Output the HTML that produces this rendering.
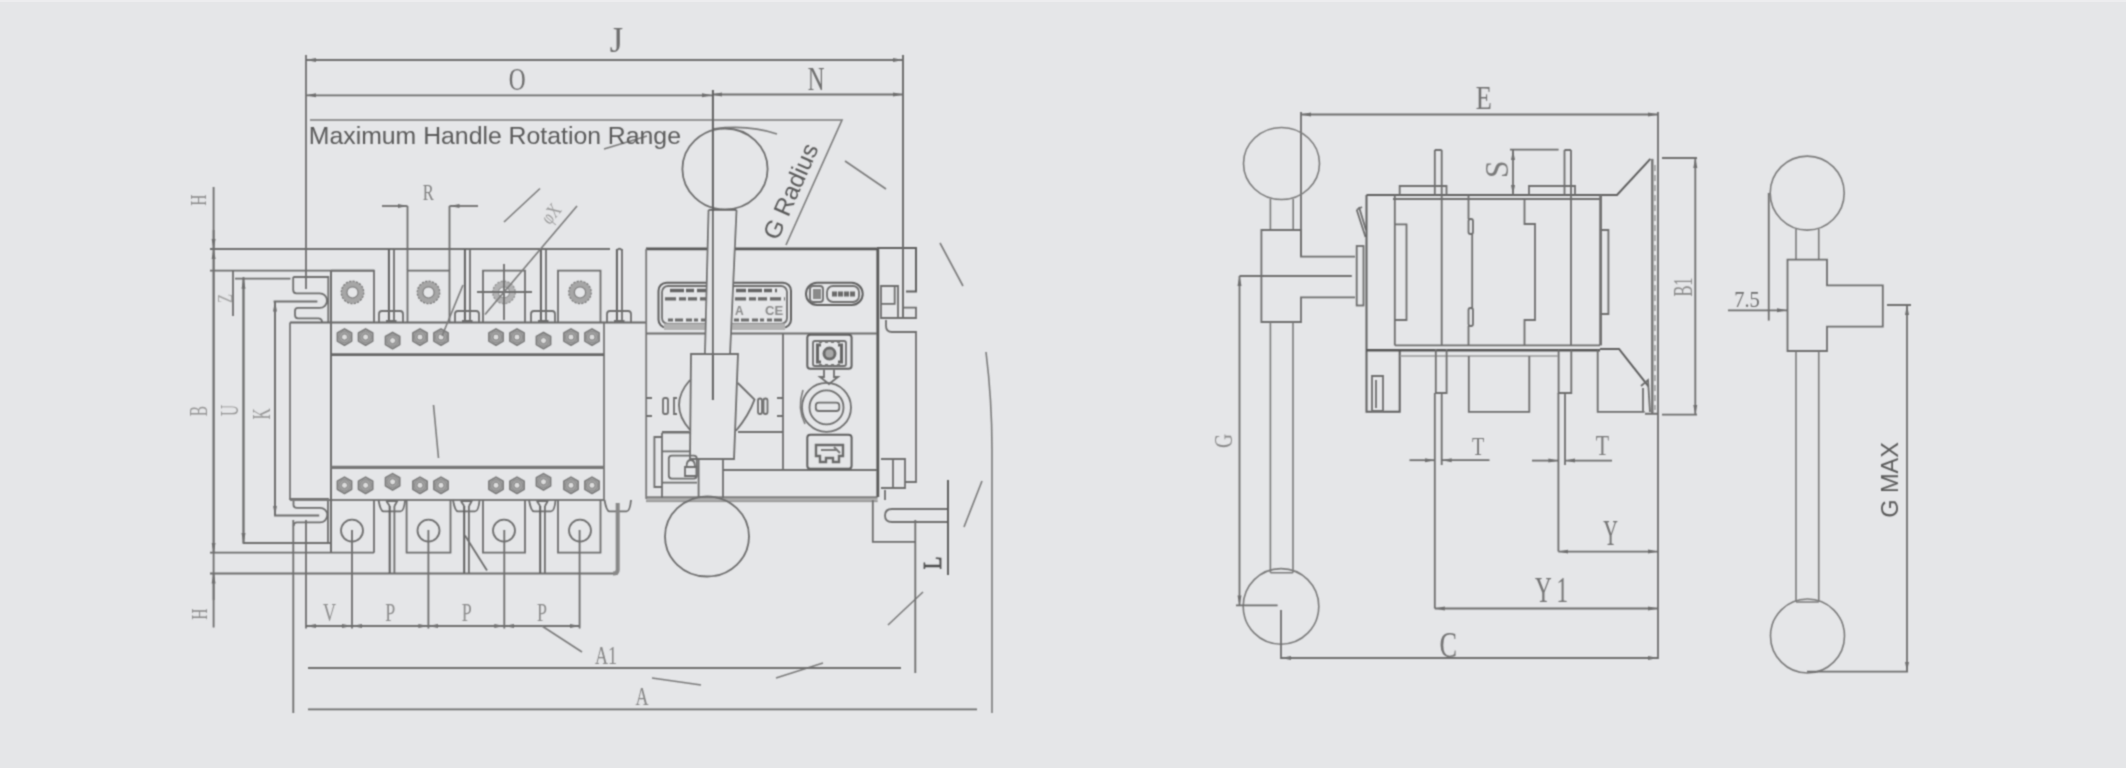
<!DOCTYPE html>
<html><head><meta charset="utf-8">
<style>
html,body{margin:0;padding:0;background:#e5e6e8;}
body{width:2126px;height:768px;overflow:hidden;position:relative;}
svg{position:absolute;left:0;top:0;will-change:transform;}
.l{stroke:#6e6e6e;stroke-width:1.8;fill:none;}
.d{stroke:#606060;stroke-width:2;fill:none;}
.k{stroke:#555;stroke-width:2.4;fill:none;}
.t{stroke:#7c7c7c;stroke-width:1.6;fill:none;}
.g{stroke:#9a9a9a;stroke-width:1.3;fill:none;}
.lab{font-family:"Liberation Serif",serif;fill:#7a7a7a;font-size:26px;}
.sans{font-family:"Liberation Sans",sans-serif;fill:#5a5a5a;}
</style></head>
<body>
<div style="position:absolute;left:0;top:0;width:2126px;height:2px;background:#ededef"></div>
<svg width="2126" height="768" viewBox="0 0 2126 768">
<defs>
<filter id="bl" filterUnits="userSpaceOnUse" x="0" y="0" width="2126" height="768"><feConvolveMatrix order="3" kernelMatrix="0.0441 0.1218 0.0441 0.1218 0.3364 0.1218 0.0441 0.1218 0.0441" divisor="1" edgeMode="none"/></filter>
<marker id="ar" viewBox="0 0 10 5" refX="10" refY="2.5" markerWidth="10" markerHeight="5" markerUnits="userSpaceOnUse" orient="auto-start-reverse"><path d="M0,0.5 L10,2.5 L0,4.5 z" fill="#6e6e6e"/></marker>
</defs>
<g filter="url(#bl)">
<!-- LEFT DRAWING -->
<g id="left">
<!-- top dimension lines -->
<path class="l" d="M306 55 V289 M903 55 V317"/>
<path class="l" d="M306 60 H903" marker-start="url(#ar)" marker-end="url(#ar)"/>
<path class="l" d="M306 95.3 H712" marker-start="url(#ar)" marker-end="url(#ar)"/>
<path class="l" d="M712 94.5 H903" marker-start="url(#ar)" marker-end="url(#ar)"/>
<path class="t" d="M310 120 H842 L786 245"/>
<!-- rotation range arc fragments -->
<path class="t" d="M712 129 Q748 124 777 134"/>
<path class="t" d="M845 161 L886 189 M940 243 L963 286 M986 352 Q992 400 992 450 V713 M982 481 L964 527 M923 592 L888 625 M823 663 L776 678 M701 685 L652 678 M604 149 L647 136 M433.5 405 L438.5 458"/>
<!-- handle top ball -->
<ellipse class="l" cx="725" cy="169" rx="42.6" ry="40.5"/>
<!-- left dims -->
<path class="l" d="M213.6 187 V627.5"/>
<path class="l" d="M210 249 H610 M210 270.6 H374 M210 552.7 H374 M210 573.5 H618"/>
<path class="l" d="M233 270 V316 M243.5 277 V543 H331 M235 278.7 H290.5"/>
<path class="l" d="M275 301.5 V515.5 H319.2 M273.6 301.5 H317.4"/>
<path class="l" d="M213.6 230 V249" marker-end="url(#ar)"/>
<path class="l" d="M213.6 600 V573.5" marker-end="url(#ar)"/>
<path class="l" d="M213.6 400 V552.7" marker-end="url(#ar)"/>
<path class="l" d="M213.6 400 V249" marker-end="url(#ar)"/>
<path class="l" d="M243.5 400 V543" marker-end="url(#ar)"/>
<path class="l" d="M243.5 400 V278.7" marker-end="url(#ar)"/>
<path class="l" d="M275 400 V515.5" marker-end="url(#ar)"/>
<path class="l" d="M275 400 V301.5" marker-end="url(#ar)"/>
<!-- mounting slots -->
<path class="l" d="M293.2 277 H328.3 V322 M293.2 277 V290 Q293.2 293.3 296.5 293.3 H319.7 A7.3 7.3 0 0 1 319.7 307.9 H298 Q295 307.9 295 311 V315 Q295 318.3 298 318.3 H318 Q322 318.3 322 322"/>
<path class="l" d="M289.6 499 H328 V543 M293.5 499 V505 Q293.5 507.8 297 507.8 H320 A7.3 7.3 0 0 1 320 522.4 H297 Q293.7 522.4 293.7 526"/>
<!-- body -->
<path d="M290 322.5 H646" stroke="#666" stroke-width="2" fill="none"/>
<path d="M290 322.5 V500 M604 322.5 V500" stroke="#727272" stroke-width="1.7" fill="none"/>
<path d="M290 500 H604" stroke="#7a7a7a" stroke-width="1.8" fill="none"/>
<path d="M331 270.6 V552.7" stroke="#6c6c6c" stroke-width="2" fill="none"/>
<path d="M331 354.7 H604" stroke="#666" stroke-width="2.8" fill="none"/>
<path d="M331 467.3 H604" stroke="#777" stroke-width="3.2" fill="none"/>
<!-- top terminals -->
<path class="l" d="M331 270.6 H374 V322 M407.5 322 V270.6 H449.5 V322 M483 322 V270.6 H525 V322 M558 322 V270.6 H600.5 V322"/>
<!-- bolts between terminals (top) -->
<g id="boltT"><path class="d" d="M388.9 249 V321"/><path class="l" d="M394 249 V321 M386 321 H396.5 M379 322 V314 Q379 311 382 311 H400 Q403 311 403 314 V322"/></g>
<use href="#boltT" x="76"/><use href="#boltT" x="152"/><use href="#boltT" x="228"/>
<path class="l" d="M616.9 250.5 Q619.5 247 622 250.5"/>
<!-- terminal nuts top -->
<g fill="none"><g id="tn"><circle cx="352.5" cy="292.4" r="8.4" stroke="#a6a6a6" stroke-width="5.6"/><circle cx="352.5" cy="292.4" r="11.2" stroke="#7a7a7a" stroke-width="1.3" stroke-dasharray="2.2 1.3"/><circle cx="352.5" cy="292.4" r="5.6" stroke="#7e7e7e" stroke-width="1.2"/></g><use href="#tn" x="76"/><use href="#tn" x="151.5" opacity="0.8"/><use href="#tn" x="227.5"/></g>
<path class="l" d="M477 292 H532 M504 264 V320"/>
<!-- nut rows -->
<defs><g id="nut"><polygon points="0,-8.3 7.2,-4.15 7.2,4.15 0,8.3 -7.2,4.15 -7.2,-4.15" fill="#a3a3a3" stroke="#767676" stroke-width="1.4" stroke-linejoin="round"/><circle r="5.6" fill="none" stroke="#8c8c8c" stroke-width="1"/><circle r="3" fill="#dcdcdc" stroke="#858585" stroke-width="1"/></g></defs>
<g id="nuts">
<use href="#nut" x="344.5" y="337.1"/>
<use href="#nut" x="365.6" y="337.1"/>
<use href="#nut" x="392.6" y="340.6"/>
<use href="#nut" x="420" y="337.1"/>
<use href="#nut" x="441" y="337.1"/>
<use href="#nut" x="496" y="337.1"/>
<use href="#nut" x="517" y="337.1"/>
<use href="#nut" x="543.5" y="340.6"/>
<use href="#nut" x="571" y="337.1"/>
<use href="#nut" x="592" y="337.1"/>
<use href="#nut" x="344.5" y="485.3"/>
<use href="#nut" x="365.6" y="485.3"/>
<use href="#nut" x="392.6" y="481.8"/>
<use href="#nut" x="420" y="485.3"/>
<use href="#nut" x="441" y="485.3"/>
<use href="#nut" x="496" y="485.3"/>
<use href="#nut" x="517" y="485.3"/>
<use href="#nut" x="543.5" y="481.8"/>
<use href="#nut" x="571" y="485.3"/>
<use href="#nut" x="592" y="485.3"/>
</g>
<!-- bottom terminals -->
<path class="l" d="M374 500 V552.7 M406.6 500 V552.7 H450.5 V500 M483 500 V552.7 H525 V500 M558 500 V552.7 H600.5 V500"/>
<g class="l"><circle cx="352" cy="530.6" r="11"/><circle cx="428.5" cy="530.6" r="11"/><circle cx="504" cy="530.6" r="11"/><circle cx="580" cy="530.6" r="11"/></g>
<g id="boltB"><path class="l" d="M453 500 Q455 511.4 458 511.4 H475 Q478.5 511.4 479.6 500 M460.8 501 H471.8 L469 506 M460.8 501 L464.2 506 M468.9 506 V573"/><path class="d" d="M464.2 506 V573"/></g>
<use href="#boltB" x="-74.5"/><use href="#boltB" x="76"/>
<path class="l" d="M604.5 500 Q606.5 511.4 609.5 511.4 H626.5 Q630 511.4 631 500"/>
<path d="M617.7 503 V570 Q617.7 573.5 613 573.5" stroke="#888" stroke-width="4" fill="none"/>
<path class="l" d="M465 535.5 L487 570.6"/>
<!-- phi X -->
<path class="t" d="M577 206 L485 314.5 M504 222 L540 188.5 M463 285 L442 336"/>
<!-- R dim -->
<path class="l" d="M407.5 206 V270 M449.5 206 V270"/>
<path class="l" d="M382 206 H407.5" marker-end="url(#ar)"/>
<path class="l" d="M478 206 H449.5" marker-end="url(#ar)"/>
<!-- bottom dims -->
<path class="l" d="M293.3 520 V713 M306 520 V628.6 M352 530 V628.6 M428.4 530 V628.6 M504.3 530 V628.6 M579.6 530 V628.6"/>
<path class="l" d="M306 626 H352" marker-start="url(#ar)" marker-end="url(#ar)"/>
<path class="l" d="M352 626 H428.4" marker-start="url(#ar)" marker-end="url(#ar)"/>
<path class="l" d="M428.4 626 H504.3" marker-start="url(#ar)" marker-end="url(#ar)"/>
<path class="l" d="M504.3 626 H579.6" marker-start="url(#ar)" marker-end="url(#ar)"/>
<path class="t" d="M542 626 L582 652"/>
<path class="l" d="M308 668 H901 M308 709.4 H977 M915.3 520 V673"/>
<!-- handle panel -->
<rect x="646" y="496.2" width="231.5" height="6" fill="#b0b0b0"/>
<path d="M646 497.4 H877.5" stroke="#7c7c7c" stroke-width="1.8" fill="none"/>
<path d="M646 501.3 H877.5" stroke="#999" stroke-width="1.6" fill="none"/>
<path d="M646 248.9 H877.8 V497" stroke="#585858" stroke-width="2.8" fill="none"/>
<path d="M646.2 248.9 V499" stroke="#7a7a7a" stroke-width="1.8" fill="none"/>
<path class="l" d="M646 333.5 H877 M783 333 V470 M723 470 H877 M662 432 H689 M738 432 H783"/>
<rect class="d" x="658.5" y="282.7" width="132.5" height="45" rx="8"/>
<rect class="l" x="662" y="286" width="125" height="38" rx="6"/>
<rect x="664" y="323.5" width="121" height="6.5" fill="#b2b2b2"/>
<path d="M670 290.5 H777" stroke="#656565" stroke-width="3.6" stroke-dasharray="14 2 8 3 10 2"/>
<path d="M665 298.8 H785" stroke="#6a6a6a" stroke-width="3.2" stroke-dasharray="11 3 7 2 9 3"/>
<path d="M668 320 H782" stroke="#6c6c6c" stroke-width="3" stroke-dasharray="5 2 8 3 6 2 4 3"/>
<text x="735" y="315" font-family="Liberation Sans" font-size="12" fill="#8a8a8a" font-weight="bold">A</text>
<text x="765" y="315" font-family="Liberation Sans" font-size="13" fill="#8a8a8a" font-weight="bold">CE</text>
<rect class="d" x="806" y="282.7" width="56.7" height="22.3" rx="11"/>
<rect class="l" x="810" y="286" width="13" height="16" rx="3"/>
<rect class="l" x="827" y="286" width="32" height="16" rx="6"/>
<path d="M832 294 H856" stroke="#6a6a6a" stroke-width="5" stroke-dasharray="5 1"/><rect x="813" y="289" width="8" height="10" fill="#8a8a8a"/>
<!-- icons -->
<rect class="d" x="807.3" y="334.7" width="44.3" height="34" rx="3"/>
<rect class="l" x="813" y="341" width="33" height="25" rx="2"/>
<path d="M821 345 H817.5 V362 H821 M838 345 H841.5 V362 H838" stroke="#666" stroke-width="3" fill="none"/>
<circle cx="829.5" cy="353.6" r="5.5" stroke="#6a6a6a" stroke-width="3" fill="#a8a8a8"/>
<path d="M819 342 H840 M819 365 H840" stroke="#777" stroke-width="2" stroke-dasharray="3 3"/>
<path class="l" d="M824 370 V377 H820 L829 384 L838 377 H834 V370"/>
<circle class="l" cx="826.5" cy="407.4" r="24.5"/>
<circle class="l" cx="826.5" cy="407.4" r="17"/>
<rect class="l" x="815.8" y="402.6" width="23.5" height="8.4" rx="3"/>
<path class="t" d="M803 390 Q797 408 805 424"/>
<rect class="d" x="807.3" y="434.7" width="44.3" height="34" rx="3"/>
<path d="M816 445 H843 V456 H839 V462 H833 V458 H826 V462 H820 V456 H816 Z" stroke="#6a6a6a" stroke-width="2.4" fill="none"/><path d="M821 450 H838 M834 447 L840 453" stroke="#7a7a7a" stroke-width="2" fill="none"/>
<!-- lever -->
<path d="M708.6 210 L736.5 210 L730 354 L705 354 Z" fill="#e5e6e8" stroke="none"/>
<path class="l" d="M708.6 210 L705 354 M736.5 210 L730 354 M708.6 210 H736.5"/>
<path class="d" d="M712.9 90 V400"/>
<path class="l" d="M691 354 H738 L734 459 H690 Z"/>
<path class="l" d="M698.6 459 V498 M723 459 V498"/>
<path class="l" d="M690 380 Q668 405 690 430 M737.8 383 L754.5 399.6 Q749 415 736 430.8"/>
<ellipse class="l" cx="707" cy="536.5" rx="42" ry="40"/>
<!-- left mechanism in panel -->
<path class="l" d="M654.4 437 H662 V487 H654.4 Z M662 432.7 V498 M662 432.7 H690 M662 451.4 H690 M662 482.7 H697"/>
<rect class="l" x="668.8" y="455.6" width="28" height="23" rx="3"/>
<path class="l" d="M685 476 V467 H696.5 V476 Z M686.5 467 Q686.5 460 690.7 460 Q695 460 695 467"/>
<rect class="l" x="663" y="398" width="5" height="16" rx="2"/>
<path class="l" d="M677 398 H674 V414 H677"/>
<rect class="l" x="758" y="398.5" width="4" height="15.5" rx="2"/>
<rect class="l" x="763.5" y="398.5" width="4" height="15.5" rx="2"/>
<path class="l" d="M646 398 H652 M646 416 H652 M777 398 H783 M777 416 H783"/>
<!-- right bracket -->
<path class="d" d="M877 248 H916 V291.5 H906"/>
<path class="l" d="M903 55 V318 M881 286 H898 V318 H881 Z M881 303.8 H894.7 V286 M898 318 H916 V307.7 H903"/>
<path class="l" d="M886 320 V326 Q886 332 892 332 H916 V482 H905"/>
<path class="l" d="M881 459 H905 V488 H881 M893 459 V488"/>
<path class="l" d="M885 490 V500 M872.8 500 V541.8 H916"/>
<path class="l" d="M949 509 H892 Q885 509 885 515.5 Q885 522 892 522 H949"/>
<path class="d" d="M948 480 V575"/>
<!-- labels -->
<g class="lab" text-anchor="middle">
<text transform="translate(616.5 52) scale(0.95 1)" font-size="36" fill="#6e6e6e">J</text>
<text transform="translate(517.3 90) scale(0.72 1)" font-size="32.5" fill="#6e6e6e">O</text>
<text transform="translate(816 89.5) scale(0.7 1)" font-size="33" fill="#6e6e6e">N</text>
<text transform="translate(428.4 200) scale(0.72 1)" font-size="23" fill="#808080">R</text>
<text transform="translate(206 200) rotate(-90) scale(0.65 1)" font-size="24" fill="#8a8a8a">H</text>
<text transform="translate(232 298.5) rotate(-90) scale(0.7 1)" font-size="21" fill="#a2a2a2">Z</text>
<text transform="translate(206.8 411) rotate(-90) scale(0.62 1)" font-size="25" fill="#959595">B</text>
<text transform="translate(238 410.5) rotate(-90) scale(0.62 1)" font-size="25" fill="#959595">U</text>
<text transform="translate(269.8 414) rotate(-90) scale(0.62 1)" font-size="25" fill="#959595">K</text>
<text transform="translate(207 614) rotate(-90) scale(0.65 1)" font-size="24" fill="#8a8a8a">H</text>
<text transform="translate(329.4 621) scale(0.72 1)" font-size="25" fill="#8c8c8c">V</text>
<text transform="translate(390.3 621) scale(0.72 1)" font-size="25" fill="#8c8c8c">P</text>
<text transform="translate(466.7 621) scale(0.72 1)" font-size="25" fill="#8c8c8c">P</text>
<text transform="translate(542 621) scale(0.72 1)" font-size="25" fill="#8c8c8c">P</text>
<text transform="translate(606 664) scale(0.72 1)" font-size="25" fill="#858585">A1</text>
<text transform="translate(642 705) scale(0.72 1)" font-size="25" fill="#858585">A</text>
<text transform="translate(941 563) rotate(-90) scale(0.8 1)" font-size="26" fill="#505050" stroke="#505050" stroke-width="0.8">L</text>
<text transform="translate(556 218) rotate(-50) scale(0.75 1)" font-size="20" fill="#999">&#966;X</text>
</g>
<text class="sans" x="308.8" y="143.7" font-size="24.8">Maximum Handle Rotation Range</text>
<text class="sans" transform="translate(790.6 191.3) rotate(-66.2)" text-anchor="middle" dominant-baseline="central" font-size="24.4">G Radius</text>
</g>
<!-- RIGHT DRAWING -->
<g id="right">
<path class="l" d="M1301 114.5 H1658" marker-start="url(#ar)" marker-end="url(#ar)"/>
<path class="l" d="M1301 112 V256.6 M1658 112 V659"/>
<!-- handle front -->
<ellipse class="t" cx="1281.5" cy="163.5" rx="38" ry="36"/>
<path class="t" d="M1270.4 199 V230 M1293.2 199 V230"/>
<path class="l" d="M1355 256.6 H1301 V230 H1261.4 V322 H1301 V297.3 H1355"/>
<path class="t" d="M1270.4 322 V572.8 M1293 322 V572.8 M1270.4 572.8 H1293"/>
<circle class="t" cx="1281" cy="606.4" r="37.8"/>
<path class="l" d="M1239.5 276 H1351.8"/>
<path class="l" d="M1239.5 276 V605.4" marker-start="url(#ar)" marker-end="url(#ar)"/>
<path class="l" d="M1236 605.4 H1277.6 M1281 610 V659"/>
<path class="l" d="M1281 658 H1658" marker-start="url(#ar)" marker-end="url(#ar)"/>
<path class="l" d="M1434.8 608.5 H1658" marker-start="url(#ar)" marker-end="url(#ar)"/>
<path class="l" d="M1558.4 551.6 H1658" marker-start="url(#ar)" marker-end="url(#ar)"/>
<!-- plate -->
<rect class="l" x="1356.7" y="246" width="6.8" height="59.5"/>
<path class="l" d="M1356.7 209.8 L1365.5 237 M1359 207 L1366 230 M1356.7 209.8 L1362 207"/>
<!-- body -->
<path class="d" d="M1366.5 195 H1617 L1650.4 158.9 M1366.5 195 V411.8 H1399.7 V349"/>
<path class="l" d="M1393 199 H1600"/>
<path d="M1652.3 158.9 V413.75" stroke="#747474" stroke-width="2.4" fill="none"/><path d="M1655 165 V410" stroke="#9a9a9a" stroke-width="1.5" stroke-dasharray="6 4" fill="none"/><path d="M1645 413.75 H1658" stroke="#6e6e6e" stroke-width="2" fill="none"/>
<path class="l" d="M1394.8 195 V345.4 M1395 224.4 H1406.5 V320 H1395"/>
<path class="l" d="M1434.8 150 V195 M1441.7 150 V345.4 M1434.8 150 H1441.7"/>
<path class="l" d="M1399.7 195 V186 H1446.5 V195"/>
<path class="l" d="M1468.5 195 V219 M1472.2 233 V308 M1468.5 326 V345.4"/>
<rect class="l" x="1468.5" y="219" width="4.5" height="15" rx="2"/>
<rect class="l" x="1468.5" y="308" width="4.5" height="18" rx="2"/>
<path class="l" d="M1524.5 198 V224 H1535 V320 H1524.5 V345.4"/>
<path class="l" d="M1564.5 150 V195 M1571 150 V345.4 M1564.5 150 H1571"/>
<path class="l" d="M1529 195 V186 H1575 V195"/>
<path d="M1600.6 195 V345.4" stroke="#727272" stroke-width="2.8" fill="none"/>
<path class="l" d="M1600 230 H1608.4 V314 H1600"/>
<!-- S dim -->
<path class="l" d="M1510 149.7 H1558.6"/>
<path class="l" d="M1513 150 V195" marker-start="url(#ar)" marker-end="url(#ar)"/>
<!-- B1 dim -->
<path class="l" d="M1662 158 H1697 M1662 414.7 H1697"/>
<path class="l" d="M1695.3 158 V414.7" marker-start="url(#ar)" marker-end="url(#ar)"/>
<!-- body bottom -->
<path class="l" d="M1395 345.4 H1600"/>
<path class="k" d="M1366 350.3 H1600"/>
<path class="d" d="M1600 349 H1619 L1648.5 386.4"/>
<path class="g" d="M1400 356 H1557.7"/>
<path class="l" d="M1372 376 H1383 V411 H1372 Z M1376 380 V408"/>
<path class="l" d="M1435.8 349 V393 H1446.6 V349"/>
<path class="l" d="M1468.8 356 V411.8 H1529.3 V356"/>
<path class="l" d="M1558.6 350 V393 H1571.3 V350"/>
<path class="l" d="M1597.7 350 V411.8 H1644.6"/>
<path class="l" d="M1641 386 L1648 380 L1650 412 M1643 388 V412"/>
<!-- T dims -->
<path class="l" d="M1434.8 393 V608.5 M1441.7 393 V465 M1558.4 393 V551.6 M1565 393 V465"/>
<path class="l" d="M1409.5 460.2 H1434.8" marker-end="url(#ar)"/>
<path class="l" d="M1489.5 460.2 H1441.7" marker-end="url(#ar)"/>
<path class="l" d="M1532 460.6 H1558.4" marker-end="url(#ar)"/>
<path class="l" d="M1612 460.6 H1565" marker-end="url(#ar)"/>
<!-- side view -->
<circle class="t" cx="1807.2" cy="193.1" r="37"/>
<path class="t" d="M1796 229 V259.7 M1818.75 229 V259.7"/>
<path class="l" d="M1787.5 259.7 H1827 V285.3 H1882.8 V326.6 H1827 V351 H1787.5 Z"/>
<path class="t" d="M1796 351 V602 M1818.75 351 V602 M1796 602 H1818.75"/>
<circle class="t" cx="1807.5" cy="636" r="37"/>
<path class="l" d="M1728 310.3 H1787" marker-end="url(#ar)"/>
<path class="l" d="M1768.75 193 V320.6"/>
<path class="l" d="M1887 305 H1911 M1807 671.7 H1908"/>
<path class="l" d="M1907 305 V671.7" marker-start="url(#ar)" marker-end="url(#ar)"/>
<!-- labels -->
<g class="lab" text-anchor="middle">
<text transform="translate(1483.7 108.5) scale(0.8 1)" font-size="33" fill="#727272">E</text>
<text transform="translate(1507.5 169.3) rotate(-90) scale(0.95 1)" font-size="33" fill="#7a7a7a">S</text>
<text transform="translate(1691.5 287) rotate(-90) scale(0.62 1)" font-size="26.5" fill="#8a8a8a">B1</text>
<text transform="translate(1232 441) rotate(-90) scale(0.75 1)" font-size="26" fill="#8a8a8a">G</text>
<text transform="translate(1478 455) scale(0.8 1)" font-size="25" fill="#7a7a7a">T</text>
<text transform="translate(1602.3 454.6) scale(0.75 1)" font-size="29" fill="#7a7a7a">T</text>
<text transform="translate(1610.5 545) scale(0.58 1)" font-size="35" fill="#747474">Y</text>
<text transform="translate(1551.5 601.5) scale(0.66 1)" font-size="35" fill="#747474">Y 1</text>
<text transform="translate(1448.3 656.5) scale(0.73 1)" font-size="36" fill="#747474">C</text>
<text transform="translate(1747 307) scale(0.85 1)" font-size="24" fill="#6e6e6e">7.5</text>
</g>
<text class="sans" transform="translate(1890 480) rotate(-90)" text-anchor="middle" dominant-baseline="central" font-size="23.5">G MAX</text>
</g>
</g>
</svg>
</body></html>
